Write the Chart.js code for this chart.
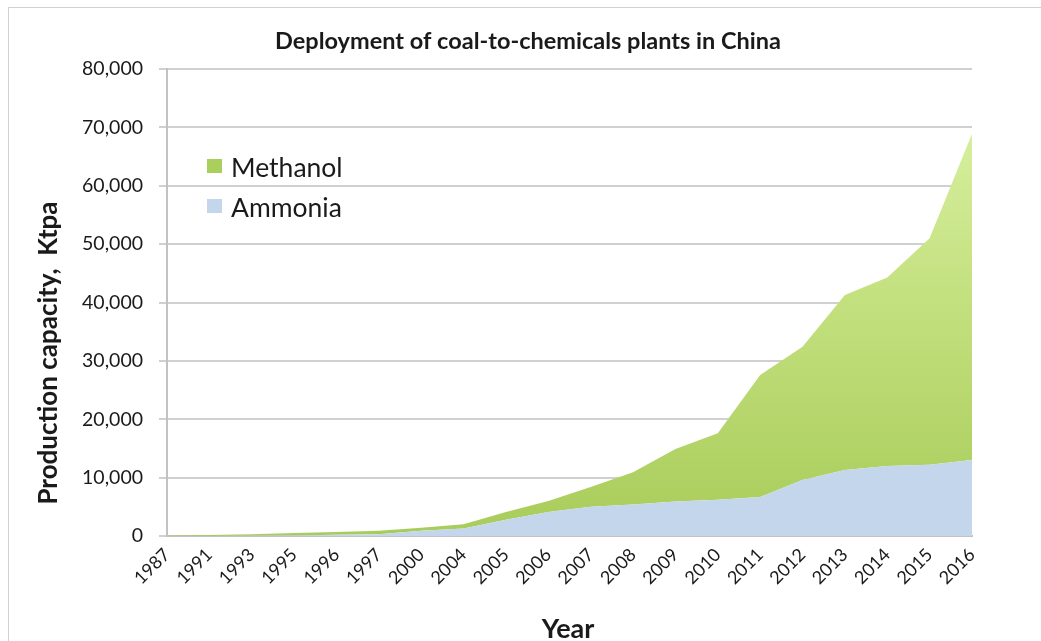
<!DOCTYPE html>
<html>
<head>
<meta charset="utf-8">
<title>Deployment of coal-to-chemicals plants in China</title>
<script src="https://cdn.jsdelivr.net/npm/chart.js@4/dist/chart.umd.min.js"></script>
<style>
  html, body { margin: 0; padding: 0; background: #ffffff; overflow: hidden; }
  #frame { position: absolute; left: 8px; top: 7px; width: 1100px; height: 700px;
           border: 1px solid #d2d2d2; box-sizing: border-box; }
  #wrap { position: absolute; left: 0; top: 0; width: 1041px; height: 641px; }
</style>
</head>
<body>
<div id="frame"></div>
<div id="wrap"><canvas id="chart" width="1041" height="641"></canvas></div>
<script>
// Production capacity by year of deployment, Ktpa
const years = ['1987', '1991', '1993', '1995', '1996', '1997', '2000', '2004', '2005', '2006',
               '2007', '2008', '2009', '2010', '2011', '2012', '2013', '2014', '2015', '2016'];
const ammonia  = [0, 20, 50, 100, 200, 300, 900, 1300, 2800, 4100,
                  5000, 5400, 5900, 6200, 6700, 9600, 11300, 12000, 12200, 13000];
const methanol = [50, 130, 250, 400, 500, 600, 500, 700, 1300, 1900,
                  3400, 5500, 9000, 11400, 20900, 22800, 30000, 32300, 38800, 55900];
const yMax = 80000;
const yStep = 10000;

const chartTitle = 'Deployment of coal-to-chemicals plants in China';
const xTitle = 'Year';
const yTitle = 'Production capacity,  Ktpa';

const FONT = 'Lato, "Open Sans", sans-serif';
const TEXT = '#1a1a1a';
const GREEN_SWATCH = '#a9cf5d';
const BLUE = '#c4d6eb';

// Vertical green gradient for the methanol band
function methanolFill(context) {
  const chart = context.chart;
  const area = chart.chartArea;
  if (!area) return GREEN_SWATCH;
  const g = chart.ctx.createLinearGradient(0, area.bottom, 0, area.top);
  g.addColorStop(0, '#a8cc5a');
  g.addColorStop(0.5, '#c3e07e');
  g.addColorStop(1, '#dcf4a9');
  return g;
}

// Title, axis titles and the in-plot legend
const decorations = {
  id: 'decorations',
  afterDraw(chart) {
    const { ctx } = chart;
    ctx.save();
    ctx.fillStyle = TEXT;
    ctx.textAlign = 'center';
    ctx.textBaseline = 'alphabetic';

    ctx.font = 'bold 23.5px ' + FONT;
    ctx.fillText(chartTitle, 528, 49);

    ctx.font = 'bold 27px ' + FONT;
    ctx.fillText(xTitle, 568, 638);

    ctx.save();
    ctx.translate(57, 353);
    ctx.rotate(-Math.PI / 2);
    ctx.font = 'bold 26px ' + FONT;
    ctx.fillText(yTitle, 0, 0);
    ctx.restore();

    // legend: Methanol above Ammonia
    const items = [
      { text: 'Methanol', color: GREEN_SWATCH, base: 177 },
      { text: 'Ammonia', color: BLUE, base: 217 }
    ];
    ctx.textAlign = 'left';
    ctx.font = '26.5px ' + FONT;
    items.forEach(it => {
      ctx.fillStyle = it.color;
      ctx.fillRect(207, it.base - 18, 15, 14);
      ctx.fillStyle = TEXT;
      ctx.fillText(it.text, 231, it.base);
    });
    ctx.restore();
  }
};

new Chart(document.getElementById('chart'), {
  type: 'line',
  data: {
    labels: years,
    datasets: [
      { label: 'Ammonia', data: ammonia, fill: 'origin', backgroundColor: BLUE,
        borderWidth: 0, pointRadius: 0, tension: 0 },
      { label: 'Methanol', data: methanol, fill: '-1', backgroundColor: methanolFill,
        borderWidth: 0, pointRadius: 0, tension: 0 }
    ]
  },
  options: {
    responsive: false,
    animation: false,
    events: [],
    layout: { padding: { left: 0, top: 69, right: 69, bottom: 0 } },
    plugins: { legend: { display: false }, title: { display: false }, tooltip: { enabled: false } },
    scales: {
      x: {
        offset: false,
        grid: { display: false, drawTicks: false },
        border: { display: true, color: '#c2c2c2', width: 2 },
        ticks: { autoSkip: false, minRotation: 45, maxRotation: 45, padding: 8,
                 color: TEXT, font: { family: FONT, size: 18 } },
        afterFit(scale) { scale.height = 641 - 536; }
      },
      y: {
        stacked: true,
        min: 0,
        max: yMax,
        grid: { color: '#d0d0d0', lineWidth: 2, tickLength: 8 },
        border: { display: true, color: '#c2c2c2', width: 2 },
        ticks: { stepSize: yStep, padding: 16, color: TEXT,
                 font: { family: FONT, size: 19.5 },
                 callback: v => v.toLocaleString('en-US') },
        afterFit(scale) { scale.width = 167; }
      }
    }
  },
  plugins: [decorations]
});
</script>
</body>
</html>
